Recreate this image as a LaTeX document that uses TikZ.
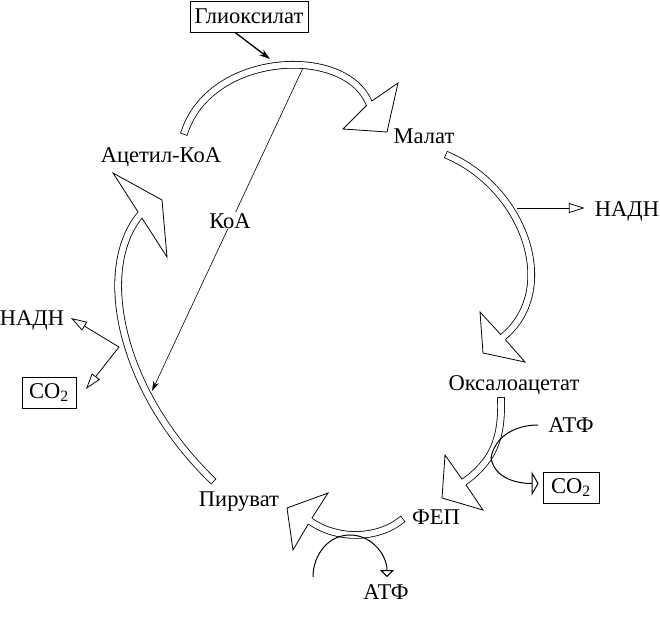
\documentclass[tikz,border=0pt]{standalone}
\usepackage{fontspec}
\setmainfont{Liberation Serif}
\usetikzlibrary{arrows.meta,calc}

% open head of a hollow arrow: back middle, corner, tip, corner
\newcommand{\openhead}[4]{%
  \fill[white] ($(#1)!3.4pt!(#2)$) -- (#2) -- (#3) -- (#4) -- ($(#1)!3.4pt!(#4)$) -- cycle;
  \draw[headedge] ($(#1)!3.4pt!(#2)$) -- (#2) -- (#3) -- (#4) -- ($(#1)!3.4pt!(#4)$);
}

\begin{document}
\begin{tikzpicture}[x=1pt,y=-1pt,
    lbl/.style={anchor=base,inner sep=0pt,font=\fontsize{22.5}{26}\selectfont},
    boxlbl/.style={draw,line width=0.8pt,inner sep=0pt,minimum height=31pt,font=\fontsize{22.5}{26}\selectfont},
    band/.style={double=white,double distance=6pt,line width=0.8pt,line cap=rect},
    headedge/.style={line width=0.8pt,line join=miter},
    side/.style={line width=0.8pt,-{Triangle[open,length=16pt,width=10pt]}},
    curvarr/.style={line width=1pt},
    solidarr/.style={line width=0.6pt,-{Stealth[length=10pt,width=6pt]}}]

  \useasboundingbox (0,0) rectangle (660,626);

  % labels
  \node[boxlbl,minimum width=118pt] (gly) at (249,16.5) {Глиоксилат};
  \node[lbl] (acet) at (161,162) {Ацетил-КоА};
  \node[lbl] (mal) at (424,143) {Малат};
  \node[lbl] (nadh1) at (627,216) {НАДН};
  \node[lbl] (oxa) at (514,390) {Оксалоацетат};
  \node[lbl] (atp1) at (571,432) {АТФ};
  \node[boxlbl,minimum width=56pt] (co2a) at (571,487.5) {CO\textsubscript{2}};
  \node[lbl] (fep) at (436,524) {ФЕП};
  \node[lbl] (pyr) at (239,506) {Пируват};
  \node[lbl] (atp2) at (386,599) {АТФ};
  \node[lbl] (nadh2) at (32,325) {НАДН};
  \node[boxlbl,minimum width=54pt] (co2b) at (49,392.5) {CO\textsubscript{2}};

  % hollow arrows of the cycle
  \coordinate (topS) at (185,131);  \coordinate (topM) at (369,103);
  \coordinate (rgtS) at (449,156);  \coordinate (rgtM) at (503,337);
  \coordinate (oxaS) at (501,401);  \coordinate (oxaM) at (464,482);
  \coordinate (fepS) at (400,521);  \coordinate (fepM) at (310,521);
  \coordinate (lftS) at (211,479);  \coordinate (lftM) at (140,215);

  \draw[band] (topS) .. controls (212,52) and (345,45) .. (topM);
  \draw[band] (rgtS) .. controls (525,190) and (560,290) .. (rgtM);
  \draw[band] (oxaS) .. controls (502,440) and (492,462) .. (oxaM);
  \draw[band] (fepS) .. controls (380,537) and (340,542) .. (fepM);
  \draw[band] (lftS) .. controls (120,390) and (95,270) .. (lftM);

  \openhead{topM}{398,83}{387,132}{343,129}
  \openhead{rgtM}{480,312}{483,353}{525,362}
  \openhead{oxaM}{445,455}{442,498}{483,510}
  \openhead{fepM}{328,493}{287,508}{293,550}
  \openhead{lftM}{113,173}{162,200}{167,257}

  % side products
  \coordinate (nb) at (517,208);
  \draw[side] (nb) -- ($(nb -| nadh1.west)+(-10,0)$);

  \coordinate (lb) at (119,347);
  \coordinate (nadh2in) at (71,318);
  \coordinate (co2bin) at (86,389);
  \draw[side] (lb) -- (nadh2in);
  \draw[side] (lb) -- (co2bin);

  \coordinate (atp1out) at (538,425);
  \draw[curvarr,-{Triangle[open,length=7pt,width=24pt]}] (atp1out) to[out=180,in=80] (491,458)
      to[out=-80,in=180] ($(co2a.west)+(-4,-4)$);

  \coordinate (atp2in) at (313,577);
  \draw[curvarr,-{Triangle[open,length=7pt,width=14pt]}] (atp2in) to[out=90,in=180] (350,535)
      to[out=0,in=90] (387,577);

  % glyoxylate and CoA
  \coordinate (glyin) at (270,59);
  \draw[line width=1.3pt,-{Stealth[length=11pt,width=7pt]}] ($(gly.south)+(-14,0)$) -- (glyin);

  \coordinate (koatop) at (303,68);
  \coordinate (koaend) at (152,391);
  \draw[solidarr] (koatop) -- (koaend);
  \node[lbl,fill=white,inner sep=1pt] (koa) at (230,228) {КоА};
\end{tikzpicture}
\end{document}
